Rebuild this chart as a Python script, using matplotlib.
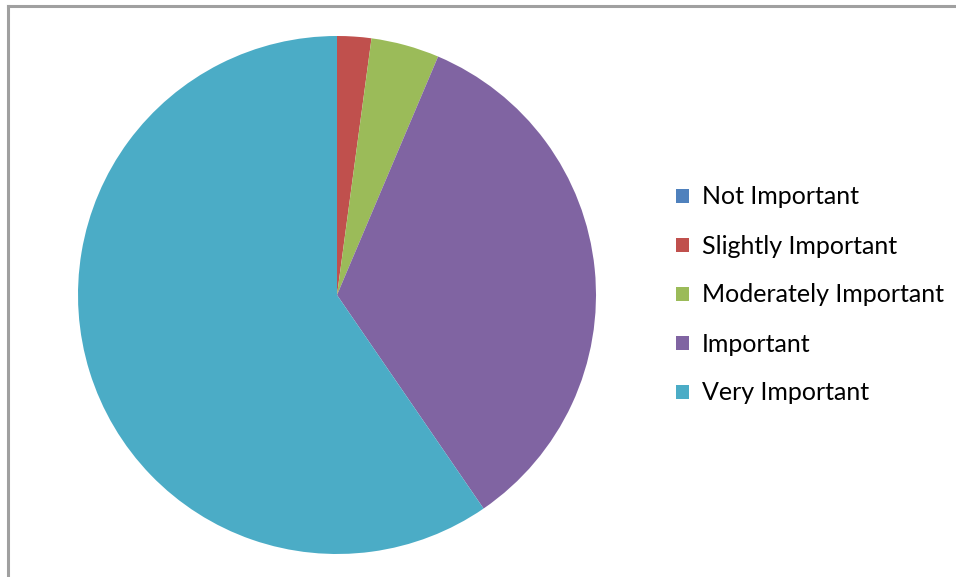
import matplotlib.pyplot as plt
from matplotlib.patches import Patch

# survey responses per importance level
labels = ["Not Important", "Slightly Important", "Moderately Important",
          "Important", "Very Important"]
counts = [0, 1, 2, 16, 28]
colors = ["#4F81BD", "#C0504D", "#9BBB59", "#8064A2", "#4BACC6"]

W, H = 956, 577
fig = plt.figure(figsize=(W / 100, H / 100), dpi=100)
fig.patch.set_facecolor("white")

# chart area border (top and left edges only visible)
fig.add_artist(plt.Line2D([8 / W, 8 / W], [0, 1 - 6 / H], color="#a0a0a0", lw=2.2,
                          transform=fig.transFigure))
fig.add_artist(plt.Line2D([8 / W, 955 / W], [1 - 6 / H, 1 - 6 / H], color="#a0a0a0",
                          lw=2.2, transform=fig.transFigure))

# pie axes
cx, cy, r = 337, 295, 259
ax = fig.add_axes([(cx - r) / W, (H - cy - r) / H, 2 * r / W, 2 * r / H])
ax.pie(counts, colors=colors, startangle=90, counterclock=False,
       wedgeprops=dict(linewidth=0))
ax.set_xlim(-1, 1)
ax.set_ylim(-1, 1)
ax.set_aspect("equal")

# legend with small square keys
handles = [Patch(facecolor=c, edgecolor="none") for c in colors]
fig.legend(handles, labels, loc="center left",
           bbox_to_anchor=(676 / W, (H - 295) / H),
           frameon=False, prop={"family": "Lato", "size": 18},
           handlelength=0.5, handleheight=0.5, handletextpad=0.55,
           labelspacing=1.04, borderpad=0, borderaxespad=0)

fig.savefig("out.png", dpi=100)
